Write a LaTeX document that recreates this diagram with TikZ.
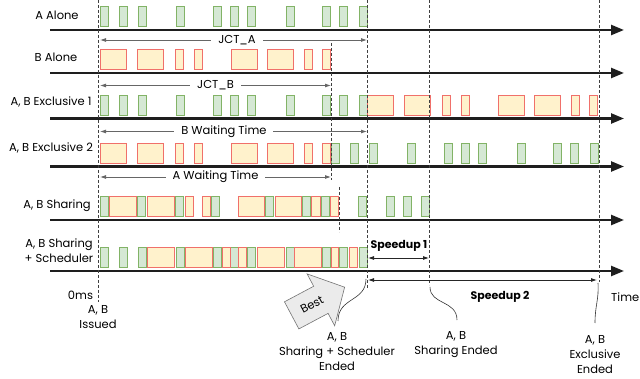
\documentclass[tikz,border=0pt]{standalone}
\usepackage{fontspec}
\setmainfont{Poppins}
\usetikzlibrary{arrows.meta,shapes.arrows}

\definecolor{agreen}{HTML}{82B366}
\definecolor{agreenfill}{HTML}{D5E8D4}
\definecolor{bred}{HTML}{F0706A}
\definecolor{byellow}{HTML}{FFF2CC}
\definecolor{axisgray}{HTML}{1E1E1E}

\tikzset{
abox/.style={draw=agreen,fill=agreenfill,line width=0.8pt},
bbox/.style={draw=bred,fill=byellow,line width=0.8pt},
timeaxis/.style={draw=axisgray,line width=2.4pt,-{Triangle[length=13pt,width=10pt]}},
marker/.style={draw=black!75,line width=0.5pt,dash pattern=on 3pt off 2pt},
span/.style={draw=black!60,line width=0.8pt,{Latex[length=6pt,width=4pt]}-{Latex[length=6pt,width=4pt]}},
gainspan/.style={span,draw=black!85},
brace/.style={draw=black!80,line width=0.6pt},
rowlabel/.style={font=\fontsize{11.5}{15}\selectfont,inner sep=0pt},
caption/.style={rowlabel,align=center},
}

% #1 = axis y, #2 = shift in x
\newcommand{\Aslots}[2]{%
\foreach \x in {100,119,138,176,213,230,247,286,322,339,359}
\draw[abox] ({\x+#2},{#1-3.5}) rectangle ++(8.5,-20);}
\newcommand{\Bslots}[2]{%
\foreach \x/\w in {100/26.5,137/26.5,175/8.5,194/8.5,231/26.5,267/26.5,304/8.5,322/8.5}
\draw[bbox] ({\x+#2},{#1-3.5}) rectangle ++(\w,-20);}

\begin{document}
\begin{tikzpicture}[x=1pt,y=-1pt]
\useasboundingbox (0,0) rectangle (640,379);

% rows
\node[rowlabel] (lA) at (57,15) {A Alone};
\Aslots{30}{0}
\draw[timeaxis] (50,30) -- (624,30);

\node[rowlabel] (lB) at (56,57) {B Alone};
\Bslots{73}{0}
\draw[timeaxis] (50,73) -- (624,73);

\node[rowlabel] (lE1) at (51,102) {A, B Exclusive 1};
\Aslots{118.5}{0}
\Bslots{118.5}{267}
\draw[timeaxis] (50,118.5) -- (624,118.5);

\node[rowlabel] (lE2) at (51,148) {A, B Exclusive 2};
\Bslots{166.5}{0}
\Aslots{166.5}{231}
\draw[timeaxis] (50,166.5) -- (624,166.5);

\node[rowlabel] (lS) at (57,206) {A, B Sharing};
\foreach \x in {100,137,175,211,265,302,321,358,386,403,421}
\draw[abox] (\x,216.5) rectangle ++(8.5,-20);
\foreach \x/\w in {109/27,147/27,185/8.5,202/8.5,238/26.5,275/26.5,311/9,330/8.5}
\draw[bbox] (\x,216.5) rectangle ++(\w,-20);
\draw[timeaxis] (50,220) -- (624,220);

\node[caption] (lSS) at (59,251) {A, B Sharing\\+ Scheduler};
\Aslots{271}{0}
\foreach \x/\w in {147/27,185/27,222/8.5,238/8.5,257/27,294/27,331/7.5,349/8.5}
\draw[bbox] (\x,267.5) rectangle ++(\w,-20);
\draw[timeaxis] (50,271) -- (624,271);

% time marks
\coordinate (issueT) at (98.5,0);   \coordinate (issueB) at (98.5,302);
\coordinate (schedT) at (367.5,0);  \coordinate (schedB) at (367.5,288);
\coordinate (bT) at (331,43);       \coordinate (bB) at (331,180);
\coordinate (shT) at (339.5,187);   \coordinate (shB) at (339.5,232);
\coordinate (shareT) at (429.5,0);  \coordinate (shareB) at (429.5,285);
\coordinate (exclT) at (599,0);     \coordinate (exclB) at (599,282);
\foreach \a/\b in {issueT/issueB,schedT/schedB,bT/bB,shT/shB,shareT/shareB,exclT/exclB}
\draw[marker] (\a) -- (\b);

% spans
\draw[span] (100,40) -- node[pos=0.513,rowlabel,fill=white,inner xsep=7pt] {JCT\_A} (367,40);
\draw[span] (100,85.5) -- node[rowlabel,fill=white,inner xsep=7pt] {JCT\_B} (331,85.5);
\draw[span] (100,131.5) -- node[pos=0.464,rowlabel,fill=white,inner xsep=7pt] {B Waiting Time} (367,131.5);
\draw[span] (100,177) -- node[rowlabel,fill=white,inner xsep=7pt] {A Waiting Time} (331,177);

\draw[gainspan] (368,258) -- (429,258);
\node[rowlabel,font=\fontsize{11}{15}\selectfont\bfseries] (gain1) at (399,246) {Speedup 1};
\draw[gainspan] (368,280) -- (597,280);
\node[rowlabel,font=\fontsize{11}{15}\selectfont\bfseries] (gain2) at (500,297) {Speedup 2};

% bottom texts
\node[rowlabel] (zero) at (80.5,295) {0ms};
\node[caption] (issued) at (98,317) {A, B\\Issued};
\node[rowlabel,anchor=west] (time) at (611,297) {Time};
\node[caption] (schedEnd) at (337,352) {A, B\\Sharing + Scheduler\\Ended};
\node[caption] (shareEnd) at (456,344.5) {A, B\\Sharing Ended};
\node[caption] (exclEnd) at (595,355) {A, B\\Exclusive\\Ended};

\coordinate (c1a) at (366,279); \coordinate (c1b) at (338,321);
\coordinate (c2a) at (430,287); \coordinate (c2b) at (457,320);
\coordinate (c3a) at (598,283); \coordinate (c3b) at (595,323);
\draw[brace] (c1a) .. controls (366,302) and (338,297) .. (c1b);
\draw[brace] (c2a) .. controls (430,305) and (457,300) .. (c2b);
\draw[brace] (c3a) .. controls (599,300) and (595,305) .. (c3b);

\node[rowlabel,single arrow,draw=black!55,fill=black!8,line width=0.6pt,rotate=28,
single arrow head extend=14pt,single arrow tip angle=95,minimum height=60pt,
inner ysep=11pt,inner xsep=5pt,anchor=tip] (best) at (345,287) {Best};

\end{tikzpicture}
\end{document}
